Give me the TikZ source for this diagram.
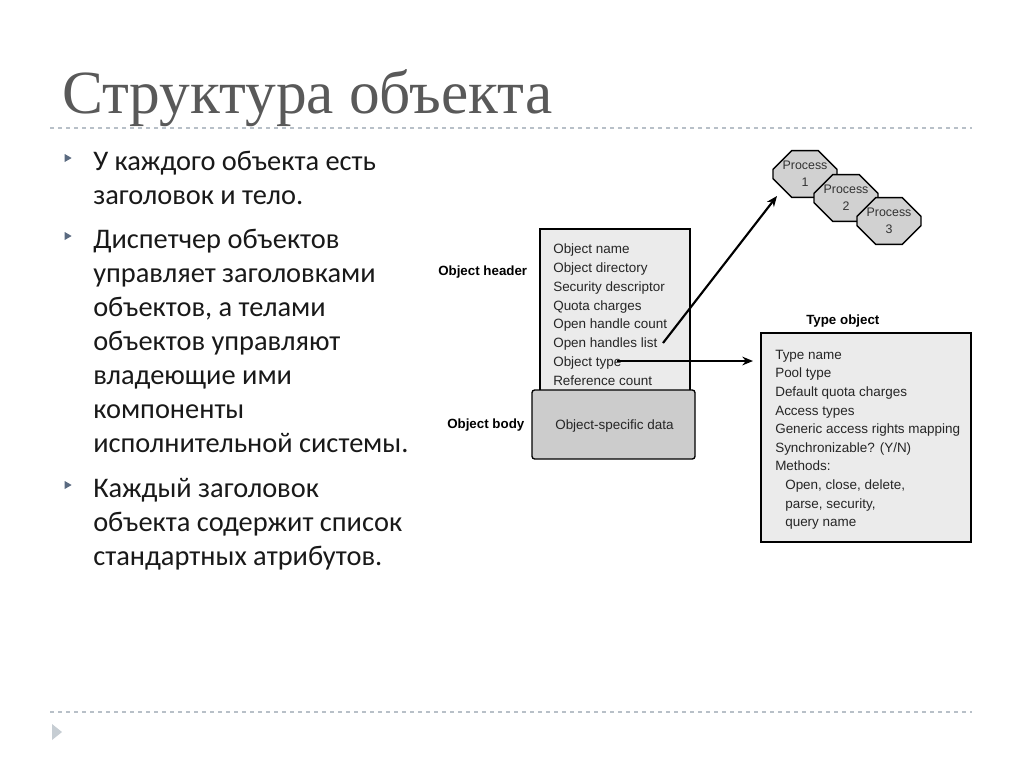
\documentclass[tikz,border=0pt]{standalone}
\usepackage{fontspec}
\setmainfont{Carlito}
\newfontfamily\titlefont{Liberation Serif}
\newfontfamily\arialf{Liberation Sans}
\usetikzlibrary{shapes.geometric,shapes.misc,arrows.meta}
\definecolor{titlegray}{HTML}{595959}
\definecolor{dashgray}{HTML}{B8C0C8}
\definecolor{bulletgray}{HTML}{5A6A80}
\begin{document}
\begin{tikzpicture}[x=0.75pt,y=-0.75pt,
  bodytext/.style={anchor=base west,font=\fontsize{21.3}{21}\selectfont,inner sep=0,text=black!90},
  bul/.style={fill=bulletgray,draw=none,isosceles triangle,isosceles triangle apex angle=60,minimum width=6pt,minimum height=5pt,inner sep=0},
  small/.style={anchor=base west,font=\arialf\fontsize{10.1}{10}\selectfont,inner sep=0,text=black!85},
  lbl/.style={anchor=base west,font=\arialf\bfseries\fontsize{10}{10}\selectfont,inner sep=0},
  oct/.style={chamfered rectangle,chamfered rectangle xsep=7pt,chamfered rectangle ysep=7pt,draw=black,line width=1.1pt,fill=black!18,minimum width=48pt,minimum height=35pt,inner sep=0,align=center,font=\arialf\fontsize{9.3}{13}\selectfont,text=black!80},
  arr/.style={-{Stealth[length=8pt,width=6.5pt]},line width=1.6pt}]
\useasboundingbox (0,0) rectangle (1024,768);
\fill[white] (0,0) rectangle (1024,768);
\node[anchor=base west,inner sep=0,font=\titlefont\fontsize{46}{46}\selectfont,text=titlegray] (title) at (62,113) {Структура объекта};
\draw[dashgray,dashed,line width=1pt] (50,128) -- (972,128);
\draw[dashgray,dashed,line width=1pt] (50,712) -- (972,712);
\fill[dashgray!80] (52,724) -- (62,732) -- (52,740) -- cycle;
\node[bul] (b1) at (67,158) {};
\node[bul] (b2) at (67,236) {};
\node[bul] (b3) at (67,485) {};
\node[bodytext] (t1) at (93,170) {У каждого объекта есть};
\node[bodytext] (t2) at (93,204) {заголовок и тело.};
\node[bodytext] (t3) at (93,248) {Диспетчер объектов};
\node[bodytext] (t4) at (93,282) {управляет заголовками};
\node[bodytext] (t5) at (93,316) {объектов, а телами};
\node[bodytext] (t6) at (93,350) {объектов управляют};
\node[bodytext] (t7) at (93,384) {владеющие ими};
\node[bodytext] (t8) at (93,418) {компоненты};
\node[bodytext] (t9) at (93,452) {исполнительной системы.};
\node[bodytext] (t10) at (93,497) {Каждый заголовок};
\node[bodytext] (t11) at (93,531) {объекта содержит список};
\node[bodytext] (t12) at (93,565) {стандартных атрибутов.};
% object header
\draw[fill=black!8,line width=1pt] (540,229) rectangle (690,395);
\draw[fill=black!20,line width=1pt,rounded corners=2pt] (532,390) rectangle (695,459);
\node[small] (h1) at (553,253) {Object name};
\node[small] (h2) at (553,272) {Object directory};
\node[small] (h3) at (553,291) {Security descriptor};
\node[small] (h4) at (553,310) {Quota charges};
\node[small] (h5) at (553,328) {Open handle count};
\node[small] (h6) at (553,347) {Open handles list};
\node[small] (h7) at (553,366) {Object type};
\node[small] (h8) at (553,385) {Reference count};
\node[small] (osd) at (555,429) {Object-specific data};
\node[lbl] (oh) at (438,275) {Object header};
\node[lbl] (ob) at (447,428) {Object body};
% type object
\node[lbl] (tol) at (806,324) {Type object};
\draw[fill=black!8,line width=1pt] (761,333) rectangle (971,542);
\node[small] (y1) at (775,359) {Type name};
\node[small] (y2) at (775,377) {Pool type};
\node[small] (y3) at (775,396) {Default quota charges};
\node[small] (y4) at (775,415) {Access types};
\node[small] (y5) at (775,433) {Generic access rights mapping};
\node[small] (y6) at (775,452) {Synchronizable? (Y/N)};
\node[small] (y7) at (775,470) {Methods:};
\node[small] (y8) at (785,489) {Open, close, delete,};
\node[small] (y9) at (785,508) {parse, security,};
\node[small] (y10) at (785,526) {query name};
% processes
\node[oct] (p1) at (805,174) {Process\\1};
\node[oct] (p2) at (846,198) {Process\\2};
\node[oct] (p3) at (889,221) {Process\\3};
\coordinate (s1) at (663,343);
\coordinate (s2) at (617,361);
\coordinate (e1) at (777,196);
\coordinate (e2) at (753,361);
\draw[arr] (s1) -- (e1);
\draw[arr] (s2) -- (e2);
\end{tikzpicture}
\end{document}
